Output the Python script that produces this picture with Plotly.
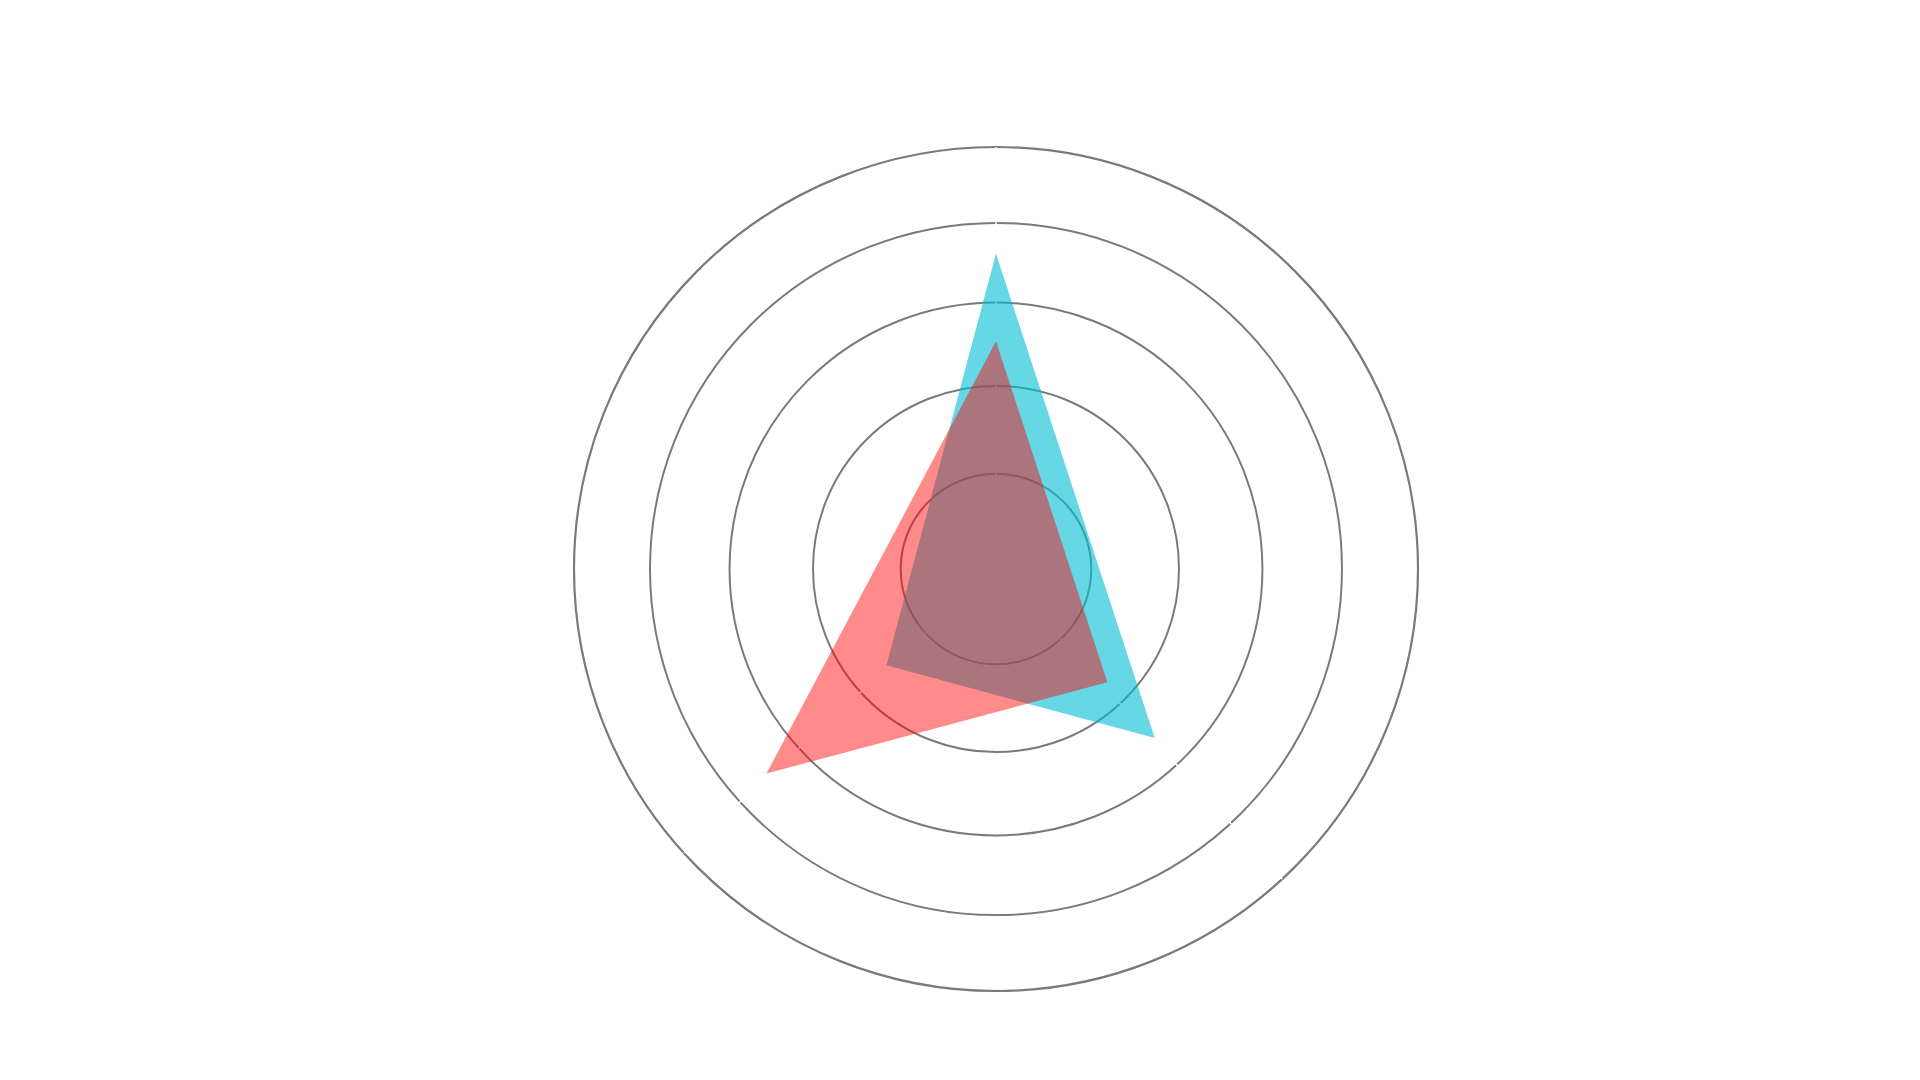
import math
import plotly.graph_objects as go

# Directions of the three spokes (degrees, clockwise from top)
spoke_theta = [0, 137.3, 227.7]

# Series: angular positions (degrees, clockwise from top) and radial values (log axis)
cyan_theta = [0, 136.8, 228.7]
cyan_r = [21.61, 20.58, 19.57]
red_theta = [0, 135.5, 228.3]
red_r = [20.53, 19.72, 21.51]

# Radial grid values and range
radial_ticks = [19, 20, 21, 22, 23]
radial_min = 17.97
radial_max = 23

fig = go.Figure()

# white spokes under the filled areas (cut the grid circles like the reference)
spoke_r, spoke_t = [], []
for t in spoke_theta:
    spoke_r += [radial_min, radial_max, None]
    spoke_t += [t, t, None]
fig.add_trace(go.Scatterpolar(
    r=spoke_r, theta=spoke_t, mode="lines",
    line=dict(color="white", width=1.5),
    hoverinfo="skip", showlegend=False, connectgaps=False,
))

fig.add_trace(go.Scatterpolar(
    r=cyan_r, theta=cyan_theta, mode="lines", fill="toself",
    fillcolor="rgba(0,188,212,0.6)", line=dict(width=0, color="rgba(0,188,212,0)"),
    name="cyan", showlegend=False,
))
fig.add_trace(go.Scatterpolar(
    r=red_r, theta=red_theta, mode="lines", fill="toself",
    fillcolor="rgba(255,0,0,0.46)", line=dict(width=0, color="rgba(255,0,0,0)"),
    name="red", showlegend=False,
))

grid_col = "#7a7a7a"
fig.update_layout(
    template="none",
    width=1920, height=1080,
    paper_bgcolor="white",
    margin=dict(l=143, r=87, t=139, b=97),
    showlegend=False,
    polar=dict(
        bgcolor="white",
        radialaxis=dict(
            type="log",
            range=[math.log10(radial_min), math.log10(radial_max)],
            tickvals=radial_ticks,
            showticklabels=False, ticks="", showline=False,
            showgrid=True, gridcolor=grid_col, gridwidth=2.2,
            layer="below traces",
        ),
        angularaxis=dict(
            type="linear", rotation=90, direction="clockwise",
            showticklabels=False, ticks="", showgrid=False,
            showline=True, linecolor=grid_col, linewidth=2.2,
            layer="below traces",
        ),
    ),
)

fig.write_html("out.html")
